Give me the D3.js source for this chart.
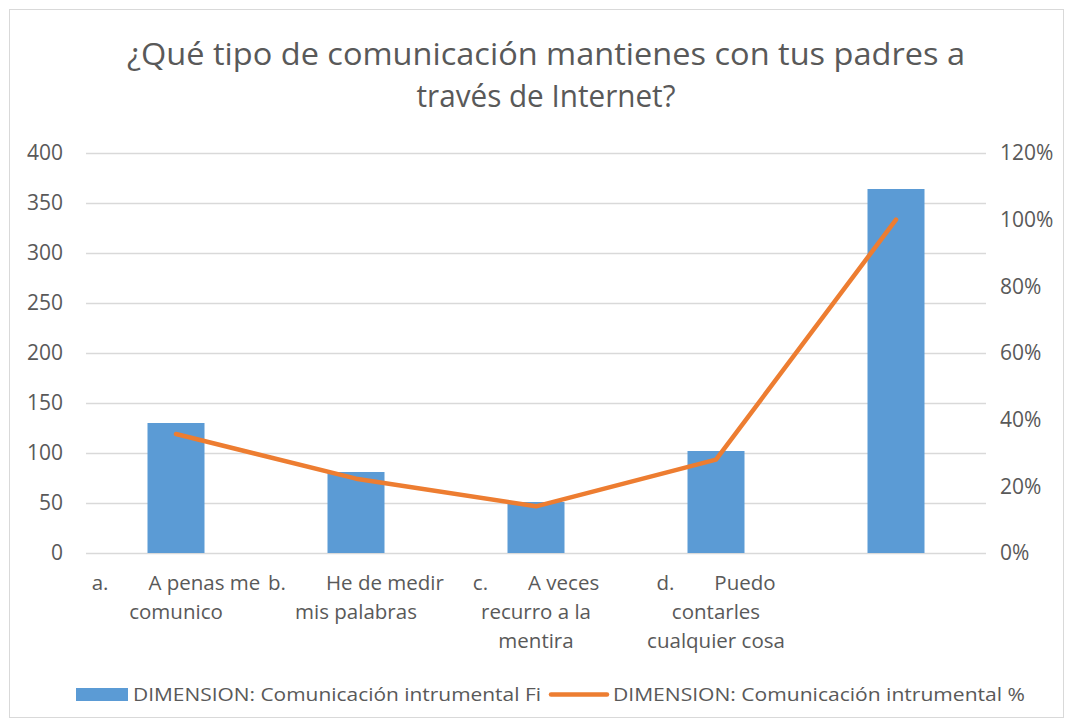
<!DOCTYPE html>
<html>
<head>
<meta charset="utf-8">
<script src="https://cdn.jsdelivr.net/npm/d3@7"></script>
<style>
  body { margin: 0; background: #fff; }
  svg text { font-family: "Open Sans", "Noto Sans", sans-serif; fill: #595959; }
</style>
</head>
<body>
<svg width="1073" height="726"></svg>
<script>
// data
const prefixes = ["a.", "b.", "c.", "d.", ""];
const labelLines = [
  ["A penas me", "comunico"],
  ["He de medir", "mis palabras"],
  ["A veces", "recurro a la", "mentira"],
  ["Puedo", "contarles", "cualquier cosa"],
  [""]
];
const fiValues = [130, 81, 51, 102, 364];
const pctValues = [0.357, 0.223, 0.14, 0.28, 1.0];
const leftTicks = [0, 50, 100, 150, 200, 250, 300, 350, 400];
const rightTicks = [0, 0.2, 0.4, 0.6, 0.8, 1.0, 1.2];
const titleLines = ["¿Qué tipo de comunicación mantienes con tus padres a", "través de Internet?"];
const titleWidths = [838, 259];
const seriesNames = ["DIMENSION: Comunicación intrumental Fi", "DIMENSION: Comunicación intrumental %"];

const svg = d3.select("svg"),
  width = +svg.attr("width"),
  height = +svg.attr("height");

const margin = {left: 86, right: 87, top: 153, bottom: 173};

// chart frame
svg.append("rect")
  .attr("x", 9.5).attr("y", 9.5)
  .attr("width", width - 19).attr("height", height - 18)
  .attr("fill", "none").attr("stroke", "#D9D9D9");

const x = d3.scaleBand()
  .domain(d3.range(fiValues.length))
  .range([margin.left, width - margin.right]);

const yL = d3.scaleLinear().domain([0, 400]).range([height - margin.bottom, margin.top]);
const yR = d3.scaleLinear().domain([0, 1.2]).range([height - margin.bottom, margin.top]);

// title
svg.append("g").selectAll("text")
  .data(titleLines)
  .enter().append("text")
  .attr("x", 546)
  .attr("y", function(d, i) { return 65 + i * 42; })
  .attr("text-anchor", "middle")
  .attr("textLength", function(d, i) { return titleWidths[i]; })
  .attr("lengthAdjust", "spacingAndGlyphs")
  .style("font-size", "31px")
  .text(function(d) { return d; });

// gridlines
svg.append("g").selectAll("line")
  .data(leftTicks)
  .enter().append("line")
  .attr("x1", margin.left).attr("x2", width - margin.right)
  .attr("y1", function(d) { return Math.round(yL(d)) + 0.5; })
  .attr("y2", function(d) { return Math.round(yL(d)) + 0.5; })
  .attr("stroke", "#D9D9D9").attr("stroke-width", 1.3);

// left axis
const axL = svg.append("g")
  .attr("transform", "translate(63,0)")
  .call(d3.axisLeft(yL).tickValues(leftTicks).tickSize(0).tickPadding(0));
axL.select(".domain").remove();
axL.selectAll("text").style("font-size", "21px").attr("fill", "#595959");

// right axis
const axR = svg.append("g")
  .attr("transform", "translate(1000,0)")
  .call(d3.axisRight(yR).tickValues(rightTicks).tickSize(0).tickPadding(0).tickFormat(d3.format(".0%")));
axR.select(".domain").remove();
axR.selectAll("text").style("font-size", "21px").attr("fill", "#595959");

// bars
const barW = 57;
svg.append("g").selectAll("rect")
  .data(fiValues)
  .enter().append("rect")
  .attr("x", function(d, i) { return x(i) + x.bandwidth() / 2 - barW / 2; })
  .attr("y", function(d) { return yL(d); })
  .attr("width", barW)
  .attr("height", function(d) { return yL(0) - yL(d); })
  .attr("fill", "#5B9BD5");

// line
const line = d3.line()
  .x(function(d, i) { return x(i) + x.bandwidth() / 2; })
  .y(function(d) { return yR(d); });

svg.append("path")
  .datum(pctValues)
  .attr("d", line)
  .attr("fill", "none")
  .attr("stroke", "#ED7D31")
  .attr("stroke-width", 4.5)
  .attr("stroke-linecap", "round")
  .attr("stroke-linejoin", "round");

// category labels (first line: prefix + tab gap + text, centered as a whole)
const tabGap = 40;
const catG = svg.append("g");
labelLines.forEach(function(lines, i) {
  const cx = x(i) + x.bandwidth() / 2;
  lines.forEach(function(txt, j) {
    const ty = 590 + j * 29;
    if (j === 0 && prefixes[i]) {
      const p = catG.append("text").attr("y", ty).style("font-size", "20.5px").text(prefixes[i]);
      const t = catG.append("text").attr("y", ty).style("font-size", "20.5px").text(txt);
      const pw = p.node().getComputedTextLength();
      const tw = t.node().getComputedTextLength();
      const total = pw + tabGap + tw;
      p.attr("x", cx - total / 2);
      t.attr("x", cx - total / 2 + pw + tabGap);
    } else {
      catG.append("text").attr("x", cx).attr("y", ty)
        .attr("text-anchor", "middle").style("font-size", "20.5px").text(txt);
    }
  });
});

// legend
const lg = svg.append("g");
lg.append("rect").attr("x", 76).attr("y", 688).attr("width", 52).attr("height", 13).attr("fill", "#5B9BD5");
lg.append("text").attr("x", 133).attr("y", 701).style("font-size", "19px")
  .attr("textLength", 408).attr("lengthAdjust", "spacingAndGlyphs").text(seriesNames[0]);
lg.append("line").attr("x1", 551).attr("x2", 607).attr("y1", 694.5).attr("y2", 694.5)
  .attr("stroke", "#ED7D31").attr("stroke-width", 4.5).attr("stroke-linecap", "round");
lg.append("text").attr("x", 613).attr("y", 701).style("font-size", "19px")
  .attr("textLength", 412).attr("lengthAdjust", "spacingAndGlyphs").text(seriesNames[1]);
</script>
</body>
</html>
